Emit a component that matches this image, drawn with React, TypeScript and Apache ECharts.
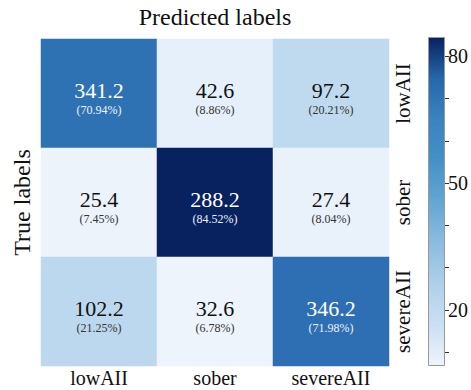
import React, { useEffect, useRef } from 'react';
import * as echarts from 'echarts';

const categories = ['lowAII', 'sober', 'severeAII'];
const countRows = [
  [341.2, 42.6, 97.2],
  [25.4, 288.2, 27.4],
  [102.2, 32.6, 346.2],
];
const percentRows = [
  [70.94, 8.86, 20.21],
  [7.45, 84.52, 8.04],
  [21.25, 6.78, 71.98],
];
const colorbarLabels = [20, 50, 80];
const colorbarTicks = [10, 20, 30, 40, 50, 60, 70, 80];
const palette = ['#eef4fc', '#cadff2', '#aed0ea', '#8bbcdf', '#64a6d4', '#4690c8', '#3a83c0', '#2767ac', '#08215f'];

const FONT = 'Liberation Serif';

export default function App() {
  const ref = useRef<HTMLDivElement>(null);
  useEffect(() => {
    const chart = echarts.init(ref.current!, null, { renderer: 'svg' });
    const all = percentRows.flat();
    const vmin = Math.min(...all);
    const vmax = Math.max(...all);
    const cellData: any[] = [];
    const numData: any[] = [];
    const pctData: any[] = [];
    percentRows.forEach((row, r) =>
      row.forEach((p, c) => {
        const dark = p > 50;
        const n = countRows[r][c];
        cellData.push([c, r, p, n]);
        numData.push({
          value: [c, r],
          label: { formatter: n.toFixed(1), color: dark ? '#ffffff' : '#111111', fontSize: 22, fontFamily: FONT },
        });
        pctData.push({
          value: [c, r],
          label: { formatter: `(${p.toFixed(2)}%)`, color: dark ? '#eef2fa' : '#333333', fontSize: 12, fontFamily: FONT },
        });
      })
    );
    const gradient = new echarts.graphic.LinearGradient(
      0, 1, 0, 0,
      palette.map((c, i) => ({ offset: i / (palette.length - 1), color: c }))
    );
    const labelSeries = (data: any[], dy: number) => ({
      type: 'scatter',
      xAxisIndex: 0,
      yAxisIndex: 0,
      data,
      symbolSize: 1,
      itemStyle: { color: 'rgba(0,0,0,0)', opacity: 1 },
      label: { show: true, position: 'inside', offset: [0, dy], textBorderWidth: 0, opacity: 1 },
      emphasis: { disabled: true },
      silent: true,
      z: 5,
    });
    chart.setOption({
      animation: false,
      textStyle: { fontFamily: FONT },
      grid: [
        { left: 41, top: 39, width: 348, height: 327, outerBoundsMode: 'none' },
        { left: 428, top: 37, width: 17, height: 329, outerBoundsMode: 'none' },
      ],
      visualMap: {
        type: 'continuous',
        show: false,
        min: vmin,
        max: vmax,
        dimension: 2,
        seriesIndex: 0,
        inRange: { color: palette },
      },
      xAxis: [
        {
          gridIndex: 0,
          type: 'category',
          data: categories,
          position: 'bottom',
          axisLine: { show: false },
          axisTick: { show: false },
          axisLabel: { fontSize: 20, color: '#111', margin: 2, fontFamily: FONT },
        },
        {
          gridIndex: 0,
          type: 'category',
          data: categories,
          position: 'top',
          axisLine: { show: false },
          axisTick: { show: false },
          axisLabel: { show: false },
          name: 'Predicted labels',
          nameLocation: 'middle',
          nameGap: 10,
          nameTextStyle: { fontSize: 24, color: '#111', fontFamily: FONT },
        },
        {
          gridIndex: 1,
          type: 'category',
          data: [''],
          show: false,
        },
      ],
      yAxis: [
        {
          gridIndex: 0,
          type: 'category',
          data: categories,
          inverse: true,
          position: 'left',
          axisLine: { show: false },
          axisTick: { show: false },
          axisLabel: { show: false },
          name: 'True labels',
          nameLocation: 'middle',
          nameRotate: 90,
          nameGap: 7,
          nameTextStyle: { fontSize: 24, color: '#111', fontFamily: FONT },
        },
        {
          gridIndex: 0,
          type: 'category',
          data: categories,
          inverse: true,
          position: 'right',
          axisLine: { show: false },
          axisTick: { show: false },
          axisLabel: { fontSize: 21, color: '#111', rotate: 90, margin: 3, fontFamily: FONT },
        },
        {
          gridIndex: 1,
          type: 'value',
          min: vmin,
          max: vmax,
          position: 'right',
          splitLine: { show: false },
          axisLine: { show: false },
          axisTick: { show: true, length: 4, customValues: colorbarTicks, lineStyle: { color: '#333' } },
          axisLabel: { customValues: colorbarLabels, fontSize: 20, color: '#111', margin: 3, fontFamily: FONT },
        },
      ],
      series: [
        {
          type: 'heatmap',
          xAxisIndex: 0,
          yAxisIndex: 0,
          data: cellData,
          label: { show: false },
          itemStyle: { borderWidth: 0 },
          emphasis: { disabled: true },
        },
        labelSeries(numData, -3),
        labelSeries(pctData, 16),
        {
          type: 'bar',
          xAxisIndex: 2,
          yAxisIndex: 2,
          stack: 'cb',
          data: [vmin],
          barWidth: '100%',
          itemStyle: { color: 'transparent' },
          silent: true,
        },
        {
          type: 'bar',
          xAxisIndex: 2,
          yAxisIndex: 2,
          stack: 'cb',
          data: [vmax - vmin],
          barWidth: '100%',
          itemStyle: { color: gradient, borderColor: '#999', borderWidth: 1 },
          silent: true,
        },
      ],
    });
    return () => chart.dispose();
  }, []);
  return (
    <div
      ref={ref}
      style={{ position: 'absolute', left: 0, top: 0, width: 471, height: 390, background: '#fff' }}
    />
  );
}
